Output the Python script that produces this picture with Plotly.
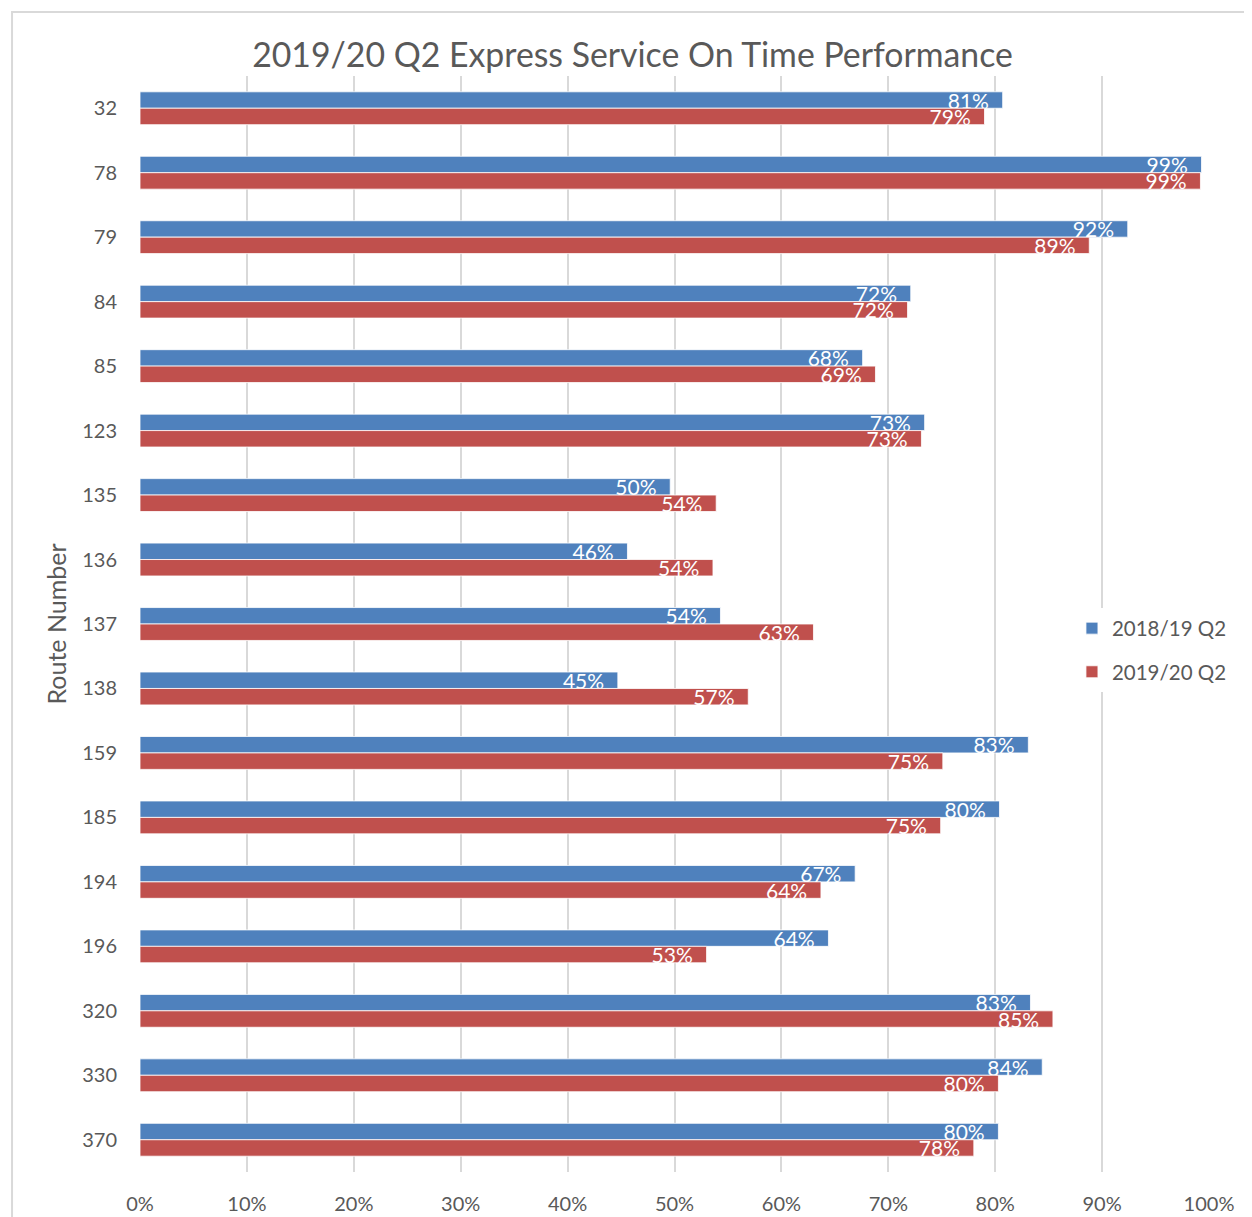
import plotly.graph_objects as go

BLUE = "#4F81BD"
RED = "#C0504D"
GREY = "#595959"
FONT = "Lato, Carlito, Calibri, sans-serif"

routes = ["32", "78", "79", "84", "85", "123", "135", "136", "137", "138",
          "159", "185", "194", "196", "320", "330", "370"]
q2_2018_19 = [0.807, 0.993, 0.924, 0.721, 0.676, 0.734, 0.496, 0.456, 0.543, 0.447,
              0.831, 0.804, 0.669, 0.644, 0.833, 0.844, 0.803]
q2_2019_20 = [0.790, 0.992, 0.888, 0.718, 0.688, 0.731, 0.539, 0.536, 0.630, 0.569,
              0.751, 0.749, 0.637, 0.530, 0.854, 0.803, 0.780]
x_ticks = [0, 0.1, 0.2, 0.3, 0.4, 0.5, 0.6, 0.7, 0.8, 0.9, 1.0]

fig = go.Figure()
for name, vals, col, grp in [("2018/19 Q2", q2_2018_19, BLUE, "a"),
                             ("2019/20 Q2", q2_2019_20, RED, "b")]:
    fig.add_trace(go.Bar(
        name=name, x=vals, y=routes, orientation="h",
        marker=dict(color=col, line=dict(color="white", width=0.8)),
        texttemplate="%{x:.0%}\u00a0\u00a0", textposition="inside",
        insidetextanchor="end", constraintext="none",
        textfont=dict(color="white", size=21, family=FONT),
        legendgroup=grp,
    ))

# page body has an 8px margin, so the figure is sized/offset to compensate
fig.update_layout(
    width=1244, height=1209,
    margin=dict(l=132, r=43, t=68, b=45),
    paper_bgcolor="white", plot_bgcolor="white",
    font=dict(family=FONT, color=GREY, size=20),
    title=dict(text="2019/20 Q2 Express Service On Time Performance",
               x=0.502, xref="container", xanchor="center",
               y=1 - 47 / 1209, yref="container", yanchor="middle",
               font=dict(size=33.8, color=GREY, family=FONT)),
    barmode="group", bargap=0.49, bargroupgap=0,
    legend=dict(x=0.8718, xanchor="left", y=0.476, yanchor="middle",
                bgcolor="white", font=dict(size=20.5, color=GREY),
                traceorder="grouped", tracegroupgap=14),
    xaxis=dict(range=[0, 1.0], tickvals=x_ticks, tickformat=".0%",
               showgrid=True, gridcolor="#D9D9D9", gridwidth=2,
               zeroline=False, showline=False, ticks="", automargin=False,
               ticklabelstandoff=18, tickfont=dict(size=20, color=GREY)),
    yaxis=dict(type="category", autorange="reversed", automargin=False,
               showgrid=False, zeroline=False, showline=False, ticks="",
               ticklabelstandoff=22, tickfont=dict(size=20, color=GREY),
               title=dict(text="Route Number", standoff=8,
                          font=dict(size=25, color=GREY))),
)

# chart-area border, as in the spreadsheet export
fig.add_shape(type="rect", xref="paper", yref="paper",
              x0=-0.1197, x1=1.05, y0=-0.05, y1=1.0584,
              line=dict(color="#D9D9D9", width=2), fillcolor="rgba(0,0,0,0)",
              layer="below")

fig.write_html("out.html")
